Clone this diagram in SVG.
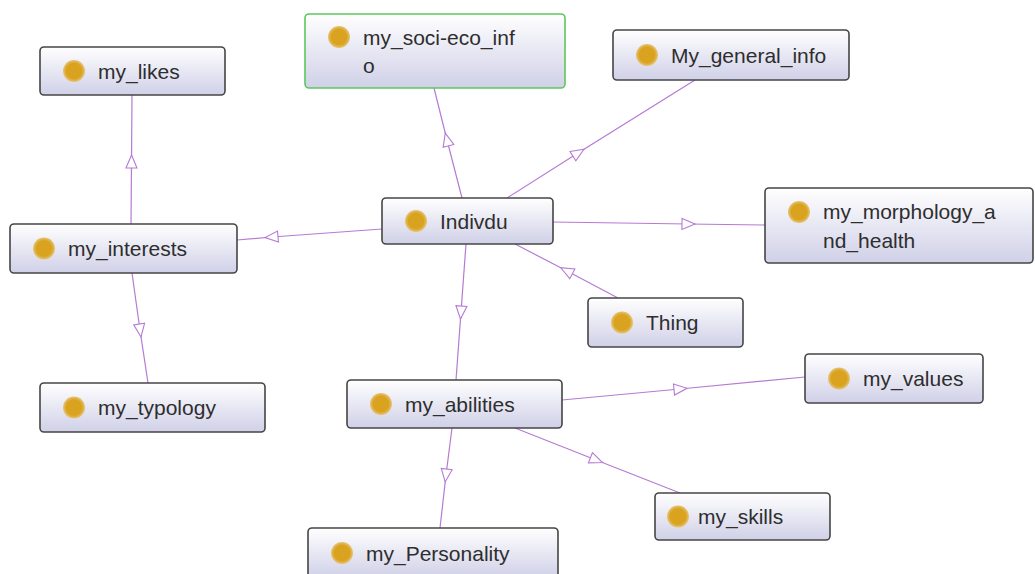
<svg xmlns="http://www.w3.org/2000/svg" width="1035" height="574" viewBox="0 0 1035 574">
<defs>
<linearGradient id="g" x1="0" y1="0" x2="0" y2="1">
<stop offset="0" stop-color="#ffffff"/>
<stop offset="1" stop-color="#d0d0e8"/>
</linearGradient>
<radialGradient id="dot" cx="0.5" cy="0.5" r="0.5">
<stop offset="0.7" stop-color="#d9a31f"/>
<stop offset="1" stop-color="#e6c47a"/>
</radialGradient>
<marker id="tri" markerWidth="16" markerHeight="14" refX="7" refY="6.5" orient="auto" markerUnits="userSpaceOnUse">
<path d="M1,1 L14,6.5 L1,12 Z" fill="#ffffff" stroke="#b57bd3" stroke-width="1.1"/>
</marker>
</defs>
<style>
.box{fill:url(#g);stroke:#454545;stroke-width:1.6}
.sel{stroke:#5cc85c}
.dot{fill:url(#dot)}
.lbl{font-family:"Liberation Sans",Arial,sans-serif;font-size:21px;fill:#2e2e2e}
.edge{fill:none;stroke:#b57bd3;stroke-width:1.2;marker-mid:url(#tri)}
</style>
<rect width="1035" height="574" fill="#ffffff"/>
<g id="connectors">
<polyline class="edge" points="462,198 447,140 434,88"/>
<polyline class="edge" points="507,198 578,153 695,80"/>
<polyline class="edge" points="382,229 272,237 237,240"/>
<polyline class="edge" points="553,222 688,224 765,225"/>
<polyline class="edge" points="618,298 567,271 515,244"/>
<polyline class="edge" points="466,244 461,312 456,380"/>
<polyline class="edge" points="131,224 131.5,162 132,95"/>
<polyline class="edge" points="132,273 140,330 148,383"/>
<polyline class="edge" points="562,400 680,389 805,377"/>
<polyline class="edge" points="515,428 596,460 680,493"/>
<polyline class="edge" points="452,428 446,475 440,528"/>
</g>
<g id="my_likes">
<rect class="box" x="40" y="47" width="185" height="48" rx="4"/>
<circle class="dot" cx="74" cy="71" r="11"/>
<text class="lbl" x="98" y="78.5">my_likes</text>
</g>
<g id="my_soci-eco_info">
<rect class="box sel" x="305" y="14" width="260" height="74" rx="4"/>
<circle class="dot" cx="339" cy="37" r="11"/>
<text class="lbl" x="363" y="45">my_soci-eco_inf</text>
<text class="lbl" x="363" y="73">o</text>
</g>
<g id="My_general_info">
<rect class="box" x="613" y="30" width="236" height="50" rx="4"/>
<circle class="dot" cx="647" cy="55" r="11"/>
<text class="lbl" x="671" y="62.5">My_general_info</text>
</g>
<g id="my_interests">
<rect class="box" x="10" y="224" width="227" height="49" rx="4"/>
<circle class="dot" cx="44" cy="248.5" r="11"/>
<text class="lbl" x="68" y="256">my_interests</text>
</g>
<g id="Indivdu">
<rect class="box" x="382" y="198" width="171" height="46" rx="4"/>
<circle class="dot" cx="416" cy="221" r="11"/>
<text class="lbl" x="440" y="228.5">Indivdu</text>
</g>
<g id="my_morphology_and_health">
<rect class="box" x="765" y="188" width="268" height="75" rx="4"/>
<circle class="dot" cx="799" cy="212" r="11"/>
<text class="lbl" x="823" y="219">my_morphology_a</text>
<text class="lbl" x="823" y="248">nd_health</text>
</g>
<g id="Thing">
<rect class="box" x="588" y="298" width="155" height="49" rx="4"/>
<circle class="dot" cx="622" cy="322.5" r="11"/>
<text class="lbl" x="646" y="330">Thing</text>
</g>
<g id="my_values">
<rect class="box" x="805" y="354" width="178" height="49" rx="4"/>
<circle class="dot" cx="839" cy="378.5" r="11"/>
<text class="lbl" x="863" y="386">my_values</text>
</g>
<g id="my_typology">
<rect class="box" x="40" y="383" width="225" height="49" rx="4"/>
<circle class="dot" cx="74" cy="407.5" r="11"/>
<text class="lbl" x="98" y="415">my_typology</text>
</g>
<g id="my_abilities">
<rect class="box" x="347" y="380" width="215" height="48" rx="4"/>
<circle class="dot" cx="381" cy="404" r="11"/>
<text class="lbl" x="405" y="411.5">my_abilities</text>
</g>
<g id="my_skills">
<rect class="box" x="655" y="493" width="175" height="47" rx="4"/>
<circle class="dot" cx="678" cy="516.5" r="11"/>
<text class="lbl" x="698" y="524">my_skills</text>
</g>
<g id="my_Personality">
<rect class="box" x="308" y="528" width="250" height="50" rx="4"/>
<circle class="dot" cx="342" cy="553" r="11"/>
<text class="lbl" x="366" y="560.5">my_Personality</text>
</g>
</svg>
